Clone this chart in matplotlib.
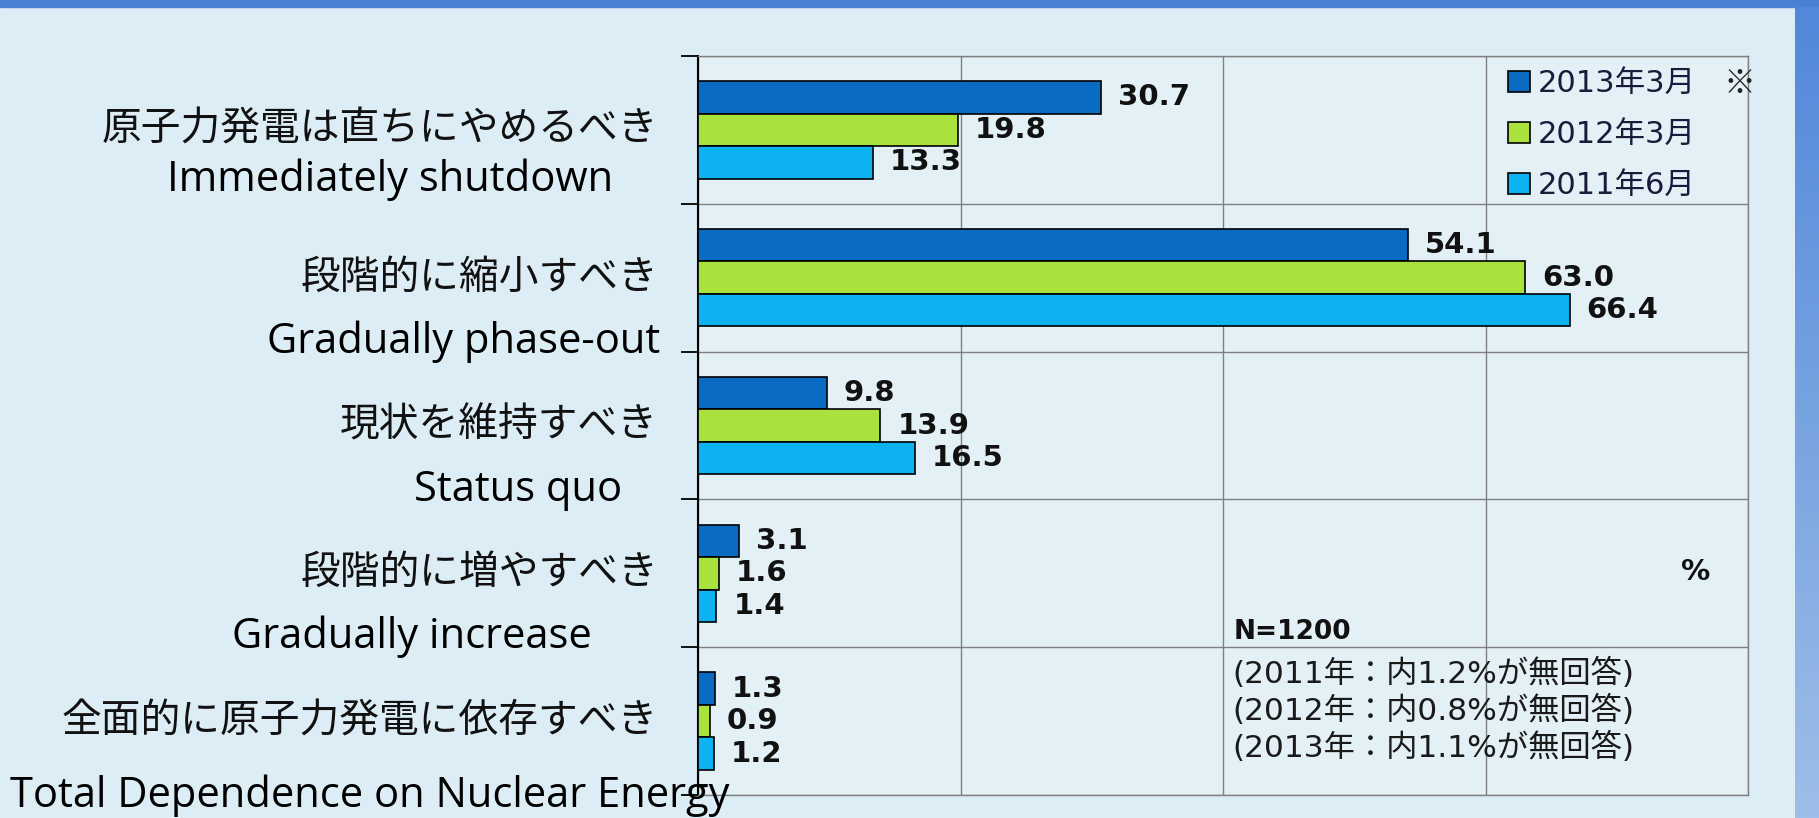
import numpy as np
import matplotlib
matplotlib.use("Agg")
import matplotlib.pyplot as plt
from matplotlib.patches import Rectangle
from matplotlib.colors import LinearSegmentedColormap
from matplotlib.font_manager import FontProperties

# --- data -------------------------------------------------------------------
categories_jp = ["原子力発電は直ちにやめるべき", "段階的に縮小すべき", "現状を維持すべき",
                 "段階的に増やすべき", "全面的に原子力発電に依存すべき"]
categories_en = ["Immediately shutdown", "Gradually phase-out", "Status quo",
                 "Gradually increase", "Total Dependence on Nuclear Energy"]
series_labels = ["2013年3月", "2012年3月", "2011年6月"]
values_2013 = [30.7, 54.1, 9.8, 3.1, 1.3]
values_2012 = [19.8, 63.0, 13.9, 1.6, 0.9]
values_2011 = [13.3, 66.4, 16.5, 1.4, 1.2]
note_lines = ["(2011年：内1.2%が無回答)", "(2012年：内0.8%が無回答)",
              "(2013年：内1.1%が無回答)"]

# --- style ------------------------------------------------------------------
BG = "#DDEDF5"
DARK_BLUE = "#0A6BC2"
LIME = "#A9E23C"
CYAN = "#0DB2F0"
GRID = "#808080"
JP = ["Noto Sans CJK JP", "DejaVu Sans"]
JP_WIDE = ["DejaVu Sans", "Noto Sans CJK JP"]   # wide latin digits, CJK falls back
EN = ["Open Sans", "DejaVu Sans"]

W, H = 1819, 818
fig = plt.figure(figsize=(W / 100, H / 100), dpi=100, facecolor=BG)

# slide frame: blue band on top, blue gradient on the right
fig.add_artist(Rectangle((0, 1 - 7 / H), 1, 7 / H, transform=fig.transFigure,
                         color="#4B80D6", zorder=0))
side = fig.add_axes([1795 / W, 0, 1 - 1795 / W, 1 - 7 / H])
side.imshow(np.linspace(0, 1, 200).reshape(-1, 1), aspect="auto",
            cmap=LinearSegmentedColormap.from_list("s", ["#5287DA", "#9DBEE8"]))
side.axis("off")

# --- chart ------------------------------------------------------------------
L, R, T, B = 698, 1748, 56, 795
ax = fig.add_axes([L / W, 1 - B / H, (R - L) / W, (B - T) / H])
ax.set_facecolor("#E3F0F6")

y = np.arange(len(categories_jp))
bar_h = 0.22
series = [values_2013, values_2012, values_2011]
colors = [DARK_BLUE, LIME, CYAN]
handles = []
for k, (vals, col) in enumerate(zip(series, colors)):
    pos = y + (k - 1) * bar_h
    bars = ax.barh(pos, vals, height=bar_h, color=col, edgecolor="black",
                   linewidth=1.2, zorder=3)
    handles.append(bars)
    for v, p in zip(vals, pos):
        ax.annotate(f"{v:.1f}", (v, p), xytext=(17, 0), textcoords="offset pixels",
                    ha="left", va="center", fontsize=21, fontweight="bold",
                    color="#111111", family="DejaVu Sans", zorder=4)

ax.set_xlim(0, 80)
ax.set_ylim(len(categories_jp) - 0.5, -0.5)
ax.set_xticks([0, 20, 40, 60, 80])
ax.set_yticks(np.arange(-0.5, len(categories_jp), 1.0))
ax.set_xticklabels([])
ax.set_yticklabels([])
ax.grid(True, color=GRID, linewidth=1.0, zorder=0)
ax.set_axisbelow(True)
ax.tick_params(axis="x", length=0)
ax.tick_params(axis="y", direction="out", length=12, width=1.3, color="black")
for s in ["top", "right", "bottom"]:
    ax.spines[s].set_color(GRID)
    ax.spines[s].set_linewidth(1.0)
ax.spines["left"].set_color("black")
ax.spines["left"].set_linewidth(1.5)

# category labels (Japanese beside the axis, English captions below them)
for i, lab in enumerate(categories_jp):
    ax.annotate(lab, (0, i), xycoords=("axes fraction", "data"), xytext=(-40, 0),
                textcoords="offset pixels", ha="right", va="center", fontsize=28.6,
                color="#111111", family=JP)
en_pos = [(390, 180), (464, 342), (518, 490), (412, 637), (370, 796)]
for lab, (px, py) in zip(categories_en, en_pos):
    fig.text(px / W, 1 - py / H, lab, ha="center", va="center", fontsize=30,
             color="black", family=EN)

# legend
leg = ax.legend(handles, series_labels, loc="upper left", bbox_to_anchor=(0.771, 0.982),
                frameon=False, borderpad=0, borderaxespad=0, handlelength=0.75,
                handleheight=0.65, handletextpad=0.25, labelspacing=0.72,
                prop=FontProperties(family=JP_WIDE, size=22))
for t in leg.get_texts():
    t.set_color("#1A1A3A")
ax.text(1739 / W, 1 - 84 / H, "※", transform=fig.transFigure, ha="center",
        va="center", fontsize=23, family=JP, color="#222222")

# unit and notes
fig.text(1696 / W, 1 - 572 / H, "%", ha="center", va="center", fontsize=21,
         fontweight="bold", family="DejaVu Sans", color="#111111")
fig.text(1234 / W, 1 - 632 / H, "N=1200", ha="left", va="center", fontsize=19,
         fontweight="bold", family="DejaVu Sans", color="#111111")
for j, line in enumerate(note_lines):
    fig.text(1232 / W, 1 - (673 + 37 * j) / H, line, ha="left", va="center",
             fontsize=22.5, family=JP_WIDE, color="#1A1A1A")

fig.savefig("out.png", dpi=100, facecolor=BG)
